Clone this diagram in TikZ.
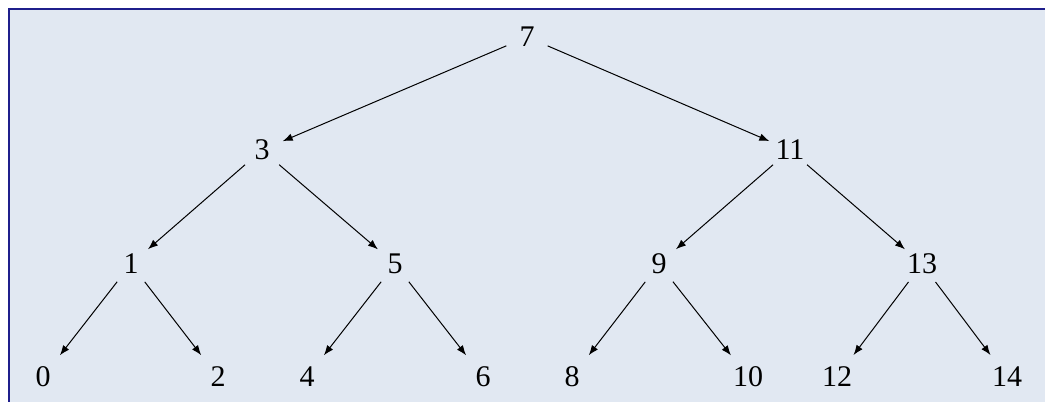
\documentclass[tikz,border=0pt]{standalone}
\usepackage{fontspec}
\setmainfont{Liberation Serif}
\usetikzlibrary{arrows.meta}
\definecolor{panelfill}{HTML}{E1E8F2}
\definecolor{panelrule}{HTML}{1F1F8C}
\begin{document}
\begin{tikzpicture}[x=0.4pt, y=-0.4pt, >={Latex[length=4pt,width=3pt]},
		key/.style={circle, inner sep=0pt, minimum size=17.6pt, font=\fontsize{12}{14}\selectfont},
		leaf/.style={key, minimum size=21.6pt}]
		\useasboundingbox (0,0) rectangle (1045,401);
		\fill[panelfill] (9,9) rectangle (1060,420);
		\draw[panelrule, line width=0.6pt] (9,420) -- (9,9) -- (1060,9);
		% keys
		\node[key] (k7) at (527,37) {7};
		\node[key] (k3) at (262,150) {3};
		\node[key] (k11) at (790,150) {11};
		\node[key] (k1) at (131,264) {1};
		\node[key] (k5) at (395,264) {5};
		\node[key] (k9) at (659,264) {9};
		\node[key] (k13) at (922,264) {13};
		\node[leaf] (k0) at (43,377) {0};
		\node[leaf] (k2) at (218,377) {2};
		\node[leaf] (k4) at (307,377) {4};
		\node[leaf] (k6) at (483,377) {6};
		\node[leaf] (k8) at (572,377) {8};
		\node[leaf] (k10) at (748,377) {10};
		\node[leaf] (k12) at (837,377) {12};
		\node[leaf] (k14) at (1007,377) {14};
		% edges
		\draw[->] (k7) -- (k3);
		\draw[->] (k7) -- (k11);
		\draw[->] (k3) -- (k1);
		\draw[->] (k3) -- (k5);
		\draw[->] (k11) -- (k9);
		\draw[->] (k11) -- (k13);
		\draw[->] (k1) -- (k0);
		\draw[->] (k1) -- (k2);
		\draw[->] (k5) -- (k4);
		\draw[->] (k5) -- (k6);
		\draw[->] (k9) -- (k8);
		\draw[->] (k9) -- (k10);
		\draw[->] (k13) -- (k12);
		\draw[->] (k13) -- (k14);
	\end{tikzpicture}
\end{document}
